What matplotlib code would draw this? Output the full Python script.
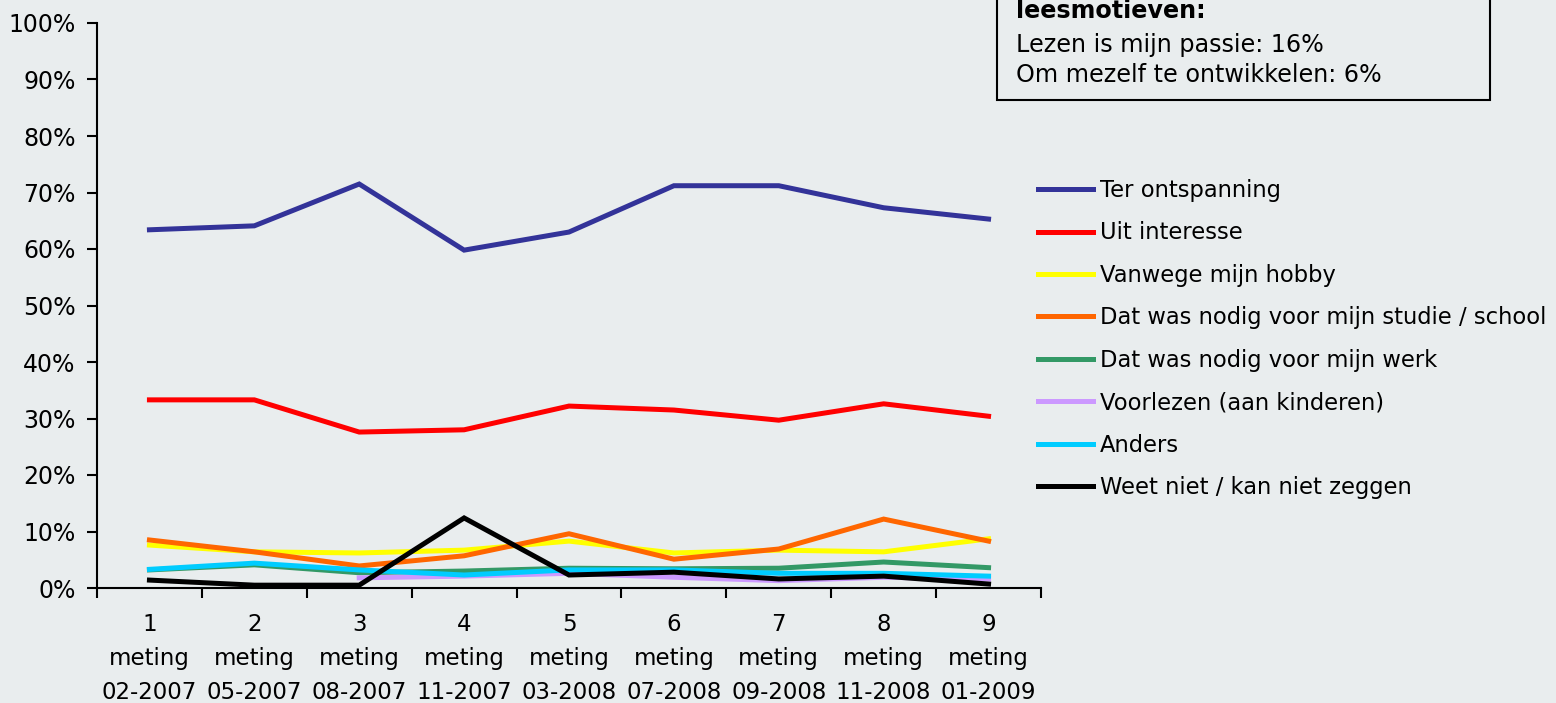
import numpy as np
import matplotlib.pyplot as plt
from matplotlib.patches import Rectangle

plt.rcParams['font.family'] = 'DejaVu Sans'

metingen = ['1\nmeting\n02-2007', '2\nmeting\n05-2007', '3\nmeting\n08-2007',
            '4\nmeting\n11-2007', '5\nmeting\n03-2008', '6\nmeting\n07-2008',
            '7\nmeting\n09-2008', '8\nmeting\n11-2008', '9\nmeting\n01-2009']

ontspanning = [63.4, 64.1, 71.5, 59.8, 63.0, 71.2, 71.2, 67.3, 65.3]
interesse = [33.3, 33.3, 27.6, 28.0, 32.2, 31.5, 29.7, 32.6, 30.4]
hobby = [7.6, 6.4, 6.2, 6.7, 8.3, 6.2, 6.7, 6.4, 8.7]
studie = [8.5, 6.4, 3.9, 5.7, 9.6, 5.1, 6.9, 12.2, 8.3]
werk = [3.2, 4.1, 2.7, 3.0, 3.5, 3.4, 3.5, 4.6, 3.6]
voorlezen = [np.nan, np.nan, 1.8, 2.1, 2.6, 1.9, 1.3, 1.9, 1.6]
anders = [3.3, 4.4, 3.2, 2.3, 3.2, 3.2, 2.6, 2.6, 2.1]
weet_niet = [1.4, 0.5, 0.5, 12.4, 2.3, 2.8, 1.6, 2.1, 0.7]

series = [
    ('Ter ontspanning', ontspanning, '#333399'),
    ('Uit interesse', interesse, '#ff0000'),
    ('Vanwege mijn hobby', hobby, '#ffff00'),
    ('Dat was nodig voor mijn studie / school', studie, '#ff6600'),
    ('Dat was nodig voor mijn werk', werk, '#339966'),
    ('Voorlezen (aan kinderen)', voorlezen, '#cc99ff'),
    ('Anders', anders, '#00ccff'),
    ('Weet niet / kan niet zeggen', weet_niet, '#000000'),
]

bg = '#e9edee'
W, H = 1556, 703
fig = plt.figure(figsize=(W / 100, H / 100), dpi=100, facecolor=bg)
ax = fig.add_axes([97 / W, 1 - 588 / H, (1041 - 97) / W, (588 - 23) / H])
ax.set_facecolor(bg)

x = np.arange(len(metingen))
for label, vals, col in series:
    ax.plot(x, vals, color=col, lw=3.6, label=label, solid_joinstyle='miter')

ax.set_xlim(-0.5, len(metingen) - 0.5)
ax.set_ylim(0, 100)
ax.set_yticks(np.arange(0, 101, 10))
ax.set_yticklabels([f'{v}%' for v in range(0, 101, 10)])
ax.set_xticks(x)
ax.set_xticklabels(metingen, linespacing=1.62)
ax.set_xticks(np.arange(-0.5, len(metingen)), minor=True)
ax.tick_params(axis='x', which='major', length=0, pad=18, labelsize=16.5)
ax.tick_params(axis='x', which='minor', length=7, width=1.5, direction='out')
ax.tick_params(axis='y', length=7, width=1.5, pad=8.5, labelsize=17)
for s in ['top', 'right']:
    ax.spines[s].set_visible(False)
for s in ['left', 'bottom']:
    ax.spines[s].set_linewidth(1.5)

fig.legend(loc='upper left', bbox_to_anchor=(1038 / W, 1 - 179 / H),
           frameon=False, fontsize=16.3, handlelength=2.45, handletextpad=0.27,
           labelspacing=0.86, borderaxespad=0, borderpad=0)

# kader met overige leesmotieven
fig.patches.append(Rectangle((997 / W, 1 - 100 / H), (1490 - 997) / W, 120 / H,
                             transform=fig.transFigure, facecolor=bg,
                             edgecolor='black', lw=1.5))
fig.text(1016 / W, 1 - 11 / H, 'leesmotieven:', fontsize=17.2, fontweight='bold',
         va='center', ha='left')
fig.text(1016 / W, 1 - 45 / H, 'Lezen is mijn passie: 16%', fontsize=17.2,
         va='center', ha='left')
fig.text(1016 / W, 1 - 75 / H, 'Om mezelf te ontwikkelen: 6%', fontsize=17.2,
         va='center', ha='left')

fig.savefig('out.png', dpi=100, facecolor=bg)
